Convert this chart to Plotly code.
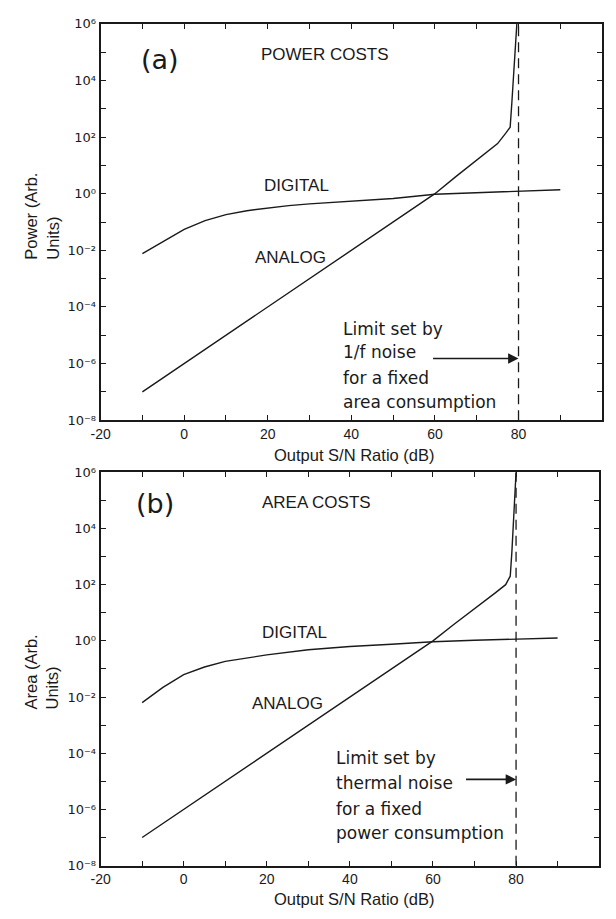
import plotly.graph_objects as go

# ---------------- data ----------------
# (a) power costs
snr_digital_a = [-10, -5, 0, 5, 10, 15, 20, 25, 30, 40, 50, 60, 70, 80, 90]
power_digital = [7.6e-3, 0.021, 0.055, 0.112, 0.182, 0.251, 0.316, 0.38, 0.437, 0.537, 0.676, 0.955, 1.07, 1.2, 1.38]
snr_analog_a = [-10, 0, 10, 20, 30, 40, 50, 60, 65, 70, 75, 77, 78, 78.4, 78.9, 79.3, 79.6]
power_analog = [1e-7, 1e-6, 1e-5, 1e-4, 1e-3, 1e-2, 0.1, 1.0, 4.0, 15, 59, 140, 224, 1.6e3, 3.2e4, 2e5, 1e6]

# (b) area costs
snr_digital_b = [-10, -5, 0, 5, 10, 15, 20, 30, 40, 50, 60, 70, 80, 90]
area_digital = [6.3e-3, 0.022, 0.063, 0.117, 0.186, 0.25, 0.316, 0.48, 0.63, 0.76, 0.93, 1.05, 1.12, 1.26]
snr_analog_b = [-10, 0, 10, 20, 30, 40, 50, 60, 65, 70, 75, 77.5, 78.6, 79.0, 79.4, 79.8, 80.0]
area_analog = [1e-7, 1e-6, 1e-5, 1e-4, 1e-3, 1e-2, 0.1, 1.0, 3.8, 13.5, 51, 100, 200, 1.5e3, 2e4, 1.1e5, 1e6]

limit_db = 80
y_range_exp = [-8, 6]
x_major = list(range(-20, 101, 20))
x_major_labels = [str(v) for v in x_major]
x_minor = list(range(-20, 101, 10))
y_major_exps = list(range(-8, 7, 2))
y_major = [10.0 ** e for e in y_major_exps]
y_major_labels = ["10⁻⁸", "10⁻⁶", "10⁻⁴", "10⁻²", "10⁰", "10²", "10⁴", "10⁶"]
y_minor = [10.0 ** e for e in range(-8, 7)]

# page geometry (the browser's default 8px body margin offsets the figure)
OFF = 8
W, H = 616 - 2 * OFF, 919 - 2 * OFF


def px_x(p):
    return (p - OFF) / W


def px_y(p):
    return 1 - (p - OFF) / H


# ---------------- figure ----------------
fig = go.Figure()
line_style = dict(color="#1a1a1a", width=1.4)

fig.add_trace(go.Scatter(x=snr_digital_a, y=power_digital, mode="lines", line=line_style,
                         xaxis="x", yaxis="y", showlegend=False))
fig.add_trace(go.Scatter(x=snr_analog_a, y=power_analog, mode="lines", line=line_style,
                         xaxis="x", yaxis="y", showlegend=False))
fig.add_trace(go.Scatter(x=snr_digital_b, y=area_digital, mode="lines", line=line_style,
                         xaxis="x2", yaxis="y2", showlegend=False))
fig.add_trace(go.Scatter(x=snr_analog_b, y=area_analog, mode="lines", line=line_style,
                         xaxis="x2", yaxis="y2", showlegend=False))

# dashed limit lines
for xa, ya in (("x", "y"), ("x2", "y2")):
    fig.add_trace(go.Scatter(x=[limit_db, limit_db], y=[10.0 ** y_range_exp[0], 10.0 ** y_range_exp[1]],
                             mode="lines", line=dict(color="#1a1a1a", width=1.3, dash="10px,6px"),
                             xaxis=xa, yaxis=ya, showlegend=False))

tickfont = dict(family="Liberation Sans, Arial, sans-serif", size=14, color="#1a1a1a")
minor_style = dict(ticks="inside", ticklen=5, tickwidth=1.3, tickcolor="#1a1a1a", showgrid=False)
common_x = dict(range=[-20, 100], tickmode="array", tickvals=x_major, ticktext=x_major_labels,
                ticks="inside", ticklen=5, tickwidth=1.3, tickcolor="#1a1a1a",
                minor=dict(minor_style, tickmode="array", tickvals=x_minor),
                showline=True, linewidth=1.8, linecolor="#1a1a1a", mirror="allticks",
                showgrid=False, zeroline=False, tickfont=tickfont)
common_y = dict(type="log", range=y_range_exp, tickmode="array", tickvals=y_major, ticktext=y_major_labels,
                ticks="inside", ticklen=5, tickwidth=1.3, tickcolor="#1a1a1a",
                minor=dict(minor_style, tickmode="array", tickvals=y_minor),
                showline=True, linewidth=1.8, linecolor="#1a1a1a", mirror="allticks",
                showgrid=False, zeroline=False,
                tickfont=dict(family="DejaVu Sans, sans-serif", size=13, color="#1a1a1a"))

fig.update_layout(
    width=W, height=H,
    margin=dict(l=0, r=0, t=0, b=0),
    paper_bgcolor="white", plot_bgcolor="white",
    xaxis=dict(common_x, domain=[px_x(92), px_x(602)], anchor="y"),
    yaxis=dict(common_y, domain=[px_y(420), px_y(17)], anchor="x"),
    xaxis2=dict(common_x, domain=[px_x(92), px_x(599)], anchor="y2"),
    yaxis2=dict(common_y, domain=[px_y(873), px_y(473)], anchor="x2"),
)

sans = "Liberation Sans, Arial, sans-serif"
dejavu = "DejaVu Sans, sans-serif"
ann = []


def txt(text, x, y, xr, yr, size=17, fam=sans, xanchor="left"):
    ann.append(dict(text=text, x=x, y=y, xref=xr, yref=yr, showarrow=False,
                    xanchor=xanchor, yanchor="middle", font=dict(family=fam, size=size, color="#1a1a1a")))


# panel (a)
txt("(a)", -5.7, 4.73, "x", "y", size=27, fam=dejavu, xanchor="center")
txt("POWER COSTS", 18.0, 4.9, "x", "y")
txt("DIGITAL", 18.5, 0.28, "x", "y")
txt("ANALOG", 16.4, -2.26, "x", "y")
for t, yy in (("Limit set by", -4.77), ("1/f noise", -5.59), ("for a fixed", -6.5), ("area consumption", -7.37)):
    txt(t, 37.5, yy, "x", "y", size=17, fam=dejavu)
ann.append(dict(x=limit_db, y=-5.82, ax=59.2, ay=-5.82, xref="x", yref="y", axref="x", ayref="y",
                text="", showarrow=True, arrowhead=2, arrowsize=1.3, arrowwidth=1.6, arrowcolor="#1a1a1a"))

# panel (b)
txt("(b)", -7.0, 4.9, "x2", "y2", size=27, fam=dejavu, xanchor="center")
txt("AREA COSTS", 18.3, 4.93, "x2", "y2")
txt("DIGITAL", 18.3, 0.31, "x2", "y2")
txt("ANALOG", 15.9, -2.24, "x2", "y2")
for t, yy in (("Limit set by", -4.17), ("thermal noise", -5.05), ("for a fixed", -5.98), ("power consumption", -6.85)):
    txt(t, 36.2, yy, "x2", "y2", size=17, fam=dejavu)
ann.append(dict(x=limit_db, y=-4.93, ax=67.6, ay=-4.93, xref="x2", yref="y2", axref="x2", ayref="y2",
                text="", showarrow=True, arrowhead=2, arrowsize=1.3, arrowwidth=1.6, arrowcolor="#1a1a1a"))

# axis titles
for py in (455, 907):
    ann.append(dict(text="Output S/N Ratio (dB)", x=px_x(350), y=px_y(py), xref="paper", yref="paper",
                    showarrow=False, xanchor="center", yanchor="middle",
                    font=dict(family=sans, size=16.5, color="#1a1a1a")))
for t, py in (("Power (Arb.<br>Units)", 212.5), ("Area (Arb.<br>Units)", 676)):
    ann.append(dict(text=t, x=px_x(32), y=px_y(py), xref="paper", yref="paper", textangle=-90, align="left",
                    showarrow=False, xanchor="center", yanchor="middle",
                    font=dict(family=sans, size=16.5, color="#1a1a1a")))

fig.update_layout(annotations=ann)
fig.write_html("out.html")
